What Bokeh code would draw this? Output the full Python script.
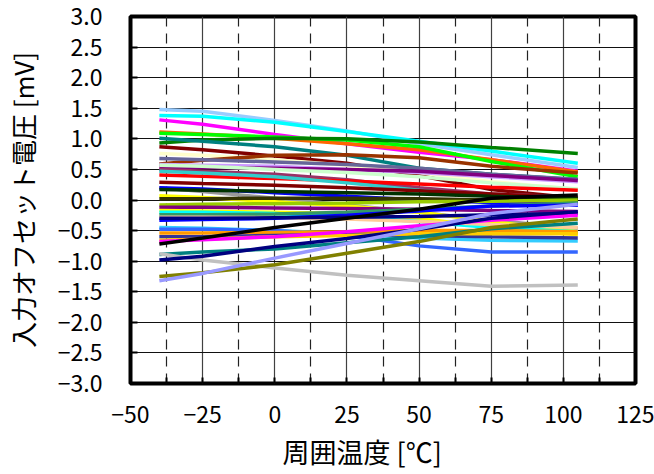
from bokeh.plotting import figure
from bokeh.models import FixedTicker, Range1d, Title
from bokeh.embed import file_html
from bokeh.resources import INLINE

FONT = "Noto Sans CJK JP"

temps = [-40, -25, 0, 25, 50, 75, 105]

x_ticks = [-50, -25, 0, 25, 50, 75, 100, 125]
x_tick_labels = ["\u221250", "\u221225", "0", "25", "50", "75", "100", "125"]
x_minor = [-37.5, -12.5, 12.5, 37.5, 62.5, 87.5, 112.5]
y_ticks = [-3.0, -2.5, -2.0, -1.5, -1.0, -0.5, 0.0, 0.5, 1.0, 1.5, 2.0, 2.5, 3.0]
y_tick_labels = ["\u22123.0", "\u22122.5", "\u22122.0", "\u22121.5", "\u22121.0", "\u22120.5",
                 "0.0", "0.5", "1.0", "1.5", "2.0", "2.5", "3.0"]
x_title = "周囲温度 [℃]"
y_title = "入力オフセット電圧 [mV]"

s01 = [1.48, 1.45, 1.30, 1.13, 0.92, 0.74, 0.53]
s02 = [1.38, 1.37, 1.27, 1.12, 0.96, 0.80, 0.60]
s03 = [1.31, 1.24, 1.07, 0.92, 0.78, 0.66, 0.47]
s04 = [1.11, 1.08, 1.01, 0.92, 0.82, 0.66, 0.46]
s05 = [1.09, 1.07, 1.03, 0.98, 0.87, 0.63, 0.38]
s06 = [0.93, 0.98, 1.01, 1.00, 0.95, 0.86, 0.76]
s07 = [1.01, 0.96, 0.87, 0.73, 0.52, 0.42, 0.33]
s08 = [0.87, 0.82, 0.72, 0.60, 0.40, 0.17, 0.03]
s09 = [0.76, 0.73, 0.66, 0.57, 0.45, 0.30, 0.17]
s10 = [0.59, 0.65, 0.73, 0.74, 0.69, 0.55, 0.44]
s11 = [0.68, 0.66, 0.62, 0.58, 0.52, 0.42, 0.34]
s12 = [0.58, 0.57, 0.55, 0.50, 0.45, 0.38, 0.30]
s13 = [0.53, 0.53, 0.52, 0.50, 0.47, 0.40, 0.32]
s14 = [0.57, 0.55, 0.50, 0.45, 0.38, 0.28, 0.18]
s15 = [0.50, 0.47, 0.42, 0.33, 0.20, 0.10, 0.04]
s16 = [0.41, 0.39, 0.35, 0.31, 0.26, 0.21, 0.16]
s17 = [0.47, 0.44, 0.38, 0.28, 0.16, 0.06, -0.02]
s18 = [0.29, 0.27, 0.24, 0.20, 0.15, 0.10, 0.03]
s19 = [0.20, 0.14, 0.03, -0.08, -0.20, -0.33, -0.46]
s20 = [0.20, 0.18, 0.12, 0.06, 0.00, -0.04, -0.08]
s21 = [0.17, 0.16, 0.14, 0.12, 0.10, 0.06, 0.02]
s22 = [0.07, 0.04, -0.03, -0.10, -0.20, -0.35, -0.52]
s23 = [0.02, 0.02, 0.03, 0.03, 0.02, 0.00, -0.02]
s24 = [-0.08, -0.07, -0.06, -0.05, -0.03, -0.02, 0.00]
s25 = [-0.12, -0.12, -0.13, -0.14, -0.15, -0.17, -0.19]
s26 = [-0.17, -0.18, -0.20, -0.22, -0.30, -0.45, -0.57]
s27 = [-0.20, -0.20, -0.22, -0.27, -0.35, -0.45, -0.52]
s28 = [-0.24, -0.24, -0.23, -0.20, -0.15, -0.10, -0.05]
s29 = [-0.28, -0.28, -0.29, -0.31, -0.35, -0.40, -0.45]
s30 = [-0.33, -0.32, -0.30, -0.25, -0.18, -0.10, -0.08]
s31 = [-0.30, -0.30, -0.29, -0.28, -0.27, -0.24, -0.22]
s32 = [-0.45, -0.46, -0.50, -0.55, -0.62, -0.66, -0.67]
s33 = [-0.48, -0.48, -0.50, -0.58, -0.75, -0.85, -0.85]
s34 = [-0.54, -0.54, -0.53, -0.52, -0.50, -0.50, -0.52]
s35 = [-0.60, -0.60, -0.58, -0.56, -0.58, -0.60, -0.62]
s36 = [-0.66, -0.64, -0.60, -0.58, -0.55, -0.55, -0.55]
s37 = [-0.68, -0.65, -0.60, -0.52, -0.42, -0.33, -0.25]
s38 = [-0.72, -0.62, -0.45, -0.30, -0.15, 0.03, 0.08]
s39 = [-0.89, -0.85, -0.80, -0.70, -0.60, -0.47, -0.38]
s40 = [-0.88, -0.98, -1.11, -1.23, -1.32, -1.41, -1.39]
s41 = [-0.98, -0.92, -0.76, -0.63, -0.48, -0.30, -0.19]
s42 = [-1.25, -1.19, -1.06, -0.87, -0.68, -0.45, -0.31]
s43 = [-1.32, -1.20, -0.95, -0.71, -0.47, -0.22, -0.07]

series = [s01, s02, s03, s04, s05, s06, s07, s08, s09, s10, s11, s12, s13, s14, s15,
          s16, s17, s18, s19, s20, s21, s22, s23, s24, s25, s26, s27, s28, s29, s30,
          s31, s32, s33, s34, s35, s36, s37, s38, s39, s40, s41, s42, s43]
colors = ["#99ccff", "#00ffff", "#ff00ff", "#ff6600", "#00ff00", "#008000", "#008080",
          "#800000", "#ffffcc", "#993300", "#666699", "#cc99ff", "#800080", "#ccffcc",
          "#993366", "#ff0000", "#33cccc", "#800000", "#999999", "#0000ff", "#003300",
          "#ffff00", "#333300", "#99cc00", "#800080", "#ffff00", "#00ffff", "#339966",
          "#ffcc99", "#0000ff", "#000080", "#33ccff", "#3366ff", "#ff9900", "#333399",
          "#ffcc00", "#ff00ff", "#000000", "#008080", "#c0c0c0", "#000080", "#808000",
          "#9999ff"]

p = figure(frame_width=505, frame_height=367, output_backend="svg", toolbar_location=None,
           x_range=Range1d(-50, 125), y_range=Range1d(-3, 3),
           min_border_left=126, min_border_top=16, min_border_right=19, min_border_bottom=4)
p.background_fill_color = "white"
p.border_fill_color = "white"
p.outline_line_color = "black"
p.outline_line_width = 4

for vals, c in zip(series, colors):
    p.line(temps, vals, line_color=c, line_width=3.5)

# grid
p.xgrid.ticker = FixedTicker(ticks=x_ticks, minor_ticks=x_minor)
p.xgrid.grid_line_color = "#404040"
p.xgrid.grid_line_width = 1.2
p.xgrid.minor_grid_line_color = "#222222"
p.xgrid.minor_grid_line_width = 1.2
p.xgrid.minor_grid_line_dash = "10 7"
p.ygrid.ticker = FixedTicker(ticks=y_ticks)
p.ygrid.grid_line_color = "#111111"
p.ygrid.grid_line_width = 1

# axes
xa = p.xaxis[0]
xa.ticker = FixedTicker(ticks=x_ticks, minor_ticks=x_minor)
xa.major_label_overrides = dict(zip(x_ticks, x_tick_labels))
xa.axis_line_color = None
xa.major_tick_in = 6
xa.major_tick_out = 0
xa.minor_tick_in = 6
xa.minor_tick_out = 0
xa.major_tick_line_width = 2
xa.minor_tick_line_width = 2
xa.major_label_standoff = 22
xa.major_label_text_font = FONT
xa.major_label_text_font_size = "23px"
xa.major_label_text_color = "black"

ya = p.yaxis[0]
ya.ticker = FixedTicker(ticks=y_ticks)
ya.major_label_overrides = dict(zip(y_ticks, y_tick_labels))
ya.axis_line_color = None
ya.major_tick_in = 7
ya.major_tick_out = 0
ya.minor_tick_line_color = None
ya.major_tick_line_width = 2
ya.major_label_standoff = 28
ya.major_label_text_font = FONT
ya.major_label_text_font_size = "23px"
ya.major_label_text_color = "black"
ya.axis_label = y_title
ya.axis_label_text_font = FONT
ya.axis_label_text_font_size = "26px"
ya.axis_label_text_font_style = "normal"
ya.axis_label_text_color = "black"
ya.axis_label_standoff = 14

# x-axis title below the tick labels, set a little left of the frame centre as in the reference
xt = Title(text=x_title, align="left", offset=152, standoff=8,
           text_font=FONT, text_font_size="27px", text_font_style="normal",
           text_color="black")
p.add_layout(xt, "below")

open("out.html", "w").write(file_html(p, INLINE))
